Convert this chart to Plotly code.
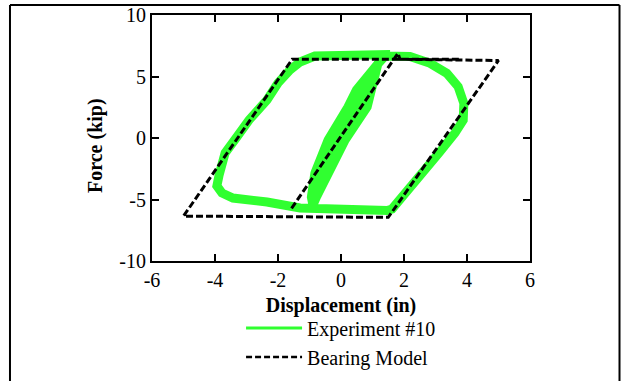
import plotly.graph_objects as go

# Experimental hysteresis record (displacement in inches, force in kips)
exp_disp = [
    -0.89, -0.94, -0.83, -0.41, 0.22, 0.49, 1.17,
    0.73, 0.52, -0.14, -0.62, -0.86, -0.89,
    -0.78, -0.41, 0.13, 0.83, 0.97, 1.17,
    1.40, 1.87, 2.19, 2.83, 3.36, 3.72, 3.90, 3.88, 3.62, 3.11, 2.67, 2.25,
    1.87, 1.62, 1.46, 0.76, -0.03, -0.67, -1.30, -2.35, -2.89, -3.43, -3.78,
    -3.94, -3.87, -3.81, -3.68, -3.33, -2.92, -2.35, -2.00, -1.62, -1.30,
    -0.83, -0.03, 0.76, 1.56,
]
exp_force = [
    -5.45, -4.80, -2.85, -0.16, 2.52, 3.90, 6.02,
    3.90, 2.52, -0.16, -2.85, -4.80, -5.45,
    -4.80, -2.85, -0.16, 2.52, 3.90, 6.02,
    6.67, 6.75, 6.63, 6.07, 5.26, 4.17, 2.82, 1.46, 0.41, -1.22, -2.60, -3.98,
    -5.20, -5.77, -5.89, -5.85, -5.77, -5.73, -5.69, -5.20, -5.04, -4.88, -4.47,
    -3.90, -3.01, -2.20, -1.22, 0.00, 1.46, 3.09, 4.47, 5.53, 6.18,
    6.67, 6.75, 6.75, 6.79,
]

# Bilinear bearing model path
model_disp = [-1.57, 1.81, 1.87, 5.00, 1.50, -5.00, -1.55, 3.78]
model_force = [-5.72, 6.89, 6.40, 6.30, -6.45, -6.35, 6.40, 6.40]

x_ticks = [-6, -4, -2, 0, 2, 4, 6]
y_ticks = [-10, -5, 0, 5, 10]

GREEN = "#30ff30"
FONT = "Liberation Serif, Times New Roman, serif"

fig = go.Figure()

fig.add_trace(go.Scatter(
    x=exp_disp, y=exp_force, mode="lines",
    line=dict(color=GREEN, width=9), showlegend=False, hoverinfo="skip",
))
fig.add_trace(go.Scatter(
    x=model_disp, y=model_force, mode="lines",
    line=dict(color="black", width=3, dash="7px,3px"), showlegend=False, hoverinfo="skip",
))

# legend entries
fig.add_trace(go.Scatter(
    x=[None], y=[None], mode="lines", name="Experiment #10",
    line=dict(color=GREEN, width=3),
))
fig.add_trace(go.Scatter(
    x=[None], y=[None], mode="lines", name="Bearing Model",
    line=dict(color="black", width=2.5, dash="6px,3px"),
))

axis_common = dict(
    showgrid=False, zeroline=False, showline=True, linecolor="black", linewidth=2,
    mirror="ticks", ticks="inside", ticklen=7, tickwidth=1.5, tickcolor="black",
    tickfont=dict(family=FONT, size=20, color="black"), automargin=False,
)

fig.update_xaxes(
    range=[-6, 6], tickvals=x_ticks, ticktext=[str(v) for v in x_ticks],
    title=dict(text="<b>Displacement (in)</b>", font=dict(family=FONT, size=20), standoff=8),
    **axis_common,
)
fig.update_yaxes(
    range=[-10, 10], tickvals=y_ticks, ticktext=[str(v) for v in y_ticks],
    **axis_common,
)

# y-axis label, placed slightly below the axis midpoint
fig.add_annotation(
    text="<b>Force (kip)</b>", textangle=-90, showarrow=False,
    xref="paper", yref="paper", x=-0.1508, y=0.4715,
    xanchor="center", yanchor="middle",
    font=dict(family=FONT, size=20, color="black"),
)

# frame of the surrounding table cell
border = dict(type="line", xref="paper", yref="paper", line=dict(color="black", width=2))
fig.update_layout(shapes=[
    dict(border, x0=-0.3757, x1=-0.3757, y0=-0.5, y1=1.0407),
    dict(border, x0=1.2368, x1=1.2368, y0=-0.5, y1=1.0407),
    dict(border, x0=-0.3757, x1=1.2368, y0=1.0407, y1=1.0407),
])

fig.update_layout(
    width=621, height=381,
    margin=dict(l=152, r=91, t=15, b=120, autoexpand=False),
    paper_bgcolor="white", plot_bgcolor="white",
    font=dict(family=FONT, size=20, color="black"),
    showlegend=True,
    legend=dict(
        x=0.2356, y=-0.193, xanchor="left", yanchor="top",
        bgcolor="rgba(0,0,0,0)", itemwidth=56,
        font=dict(family=FONT, size=20, color="black"),
    ),
)

fig.write_html("out.html")
